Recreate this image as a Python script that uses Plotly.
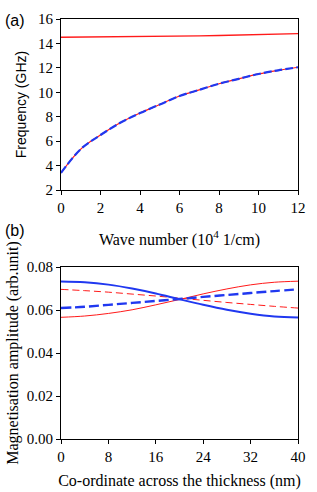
import plotly.graph_objects as go

# Panel (a): dispersion
k = [0, 1, 2, 3, 4, 5, 6, 7, 8, 9, 10, 11, 12]
f_upper = [14.5, 14.51, 14.52, 14.54, 14.56, 14.58, 14.6, 14.62, 14.65, 14.68, 14.71, 14.75, 14.8]
f_lower = [3.4, 5.35, 6.5, 7.5, 8.3, 9.0, 9.7, 10.2, 10.7, 11.1, 11.5, 11.8, 12.05]

# Panel (b): mode profiles
z = [0, 4, 8, 12, 16, 20, 24, 28, 32, 36, 40]
blue_solid = [0.0733, 0.0729, 0.0718, 0.0700, 0.0677, 0.0650, 0.0624, 0.0601, 0.0583, 0.0570, 0.0565]
red_solid = [0.0566, 0.0572, 0.0584, 0.0601, 0.0624, 0.0649, 0.0675, 0.0698, 0.0717, 0.0729, 0.0734]
red_dash = [0.0696, 0.0690, 0.0683, 0.0674, 0.0665, 0.0655, 0.0645, 0.0635, 0.0626, 0.0617, 0.0609]
blue_dash = [0.0609, 0.0615, 0.0624, 0.0633, 0.0642, 0.0651, 0.0661, 0.0670, 0.0679, 0.0688, 0.0696]

RED = "#ff1a1a"
BLUE = "#2038f0"
serif = "Liberation Serif, Times New Roman, serif"
sans = "Liberation Sans, Arial, sans-serif"

W, H = 317, 492
l, r, t, b = 61, 19, 19, 53
pw, ph = W - l - r, H - t - b
def px(xp): return (xp - l) / pw
def py(yp): return (H - b - yp) / ph

fig = go.Figure()
fig.add_trace(go.Scatter(x=k, y=f_upper, mode="lines", line=dict(color=RED, width=1.4), xaxis="x", yaxis="y"))
fig.add_trace(go.Scatter(x=k, y=f_lower, mode="lines", line=dict(color=RED, width=1.2, shape="spline"), xaxis="x", yaxis="y"))
fig.add_trace(go.Scatter(x=k, y=f_lower, mode="lines", line=dict(color=BLUE, width=2.2, dash="8px,3px", shape="spline"), xaxis="x", yaxis="y"))

fig.add_trace(go.Scatter(x=z, y=red_solid, mode="lines", line=dict(color=RED, width=1.0, shape="spline"), xaxis="x2", yaxis="y2"))
fig.add_trace(go.Scatter(x=z, y=red_dash, mode="lines", line=dict(color=RED, width=1.0, dash="7px,4px", shape="spline"), xaxis="x2", yaxis="y2"))
fig.add_trace(go.Scatter(x=z, y=blue_solid, mode="lines", line=dict(color=BLUE, width=2.0, shape="spline"), xaxis="x2", yaxis="y2"))
fig.add_trace(go.Scatter(x=z, y=blue_dash, mode="lines", line=dict(color=BLUE, width=2.4, dash="10px,4px", shape="spline"), xaxis="x2", yaxis="y2"))

axis_common = dict(showline=True, linecolor="black", linewidth=1, mirror=True, ticks="outside",
                   ticklen=4, tickcolor="black", showgrid=False, zeroline=False, automargin=False,
                   tickfont=dict(family=serif, size=15, color="black"))

fig.update_layout(
    width=W, height=H,
    margin=dict(l=l, r=r, t=t, b=b),
    paper_bgcolor="white", plot_bgcolor="white",
    showlegend=False,
    xaxis=dict(domain=[0, 1], anchor="y", range=[0, 12], tickvals=[0, 2, 4, 6, 8, 10, 12],
               title=dict(text="Wave number (10<sup>4</sup> 1/cm)", font=dict(family=serif, size=16, color="black"), standoff=18),
               **axis_common),
    yaxis=dict(domain=[py(190), py(19)], anchor="x", range=[2, 16], tickvals=[2, 4, 6, 8, 10, 12, 14, 16],
               title=dict(text="Frequency (GHz)", font=dict(family=sans, size=14, color="black"), standoff=8),
               **axis_common),
    xaxis2=dict(domain=[0, 1], anchor="y2", range=[0, 40], tickvals=[0, 8, 16, 24, 32, 40],
                title=dict(text="Co-ordinate across the thickness (nm)", font=dict(family=serif, size=16, color="black"), standoff=10),
                **axis_common),
    yaxis2=dict(domain=[py(439), py(267)], anchor="x2", range=[0, 0.08], tickvals=[0, 0.02, 0.04, 0.06, 0.08],
                tickformat=".2f",
                title=dict(text="Magnetisation amplitude (arb.unit)", font=dict(family=serif, size=16, color="black"), standoff=4),
                **axis_common),
    annotations=[
        dict(text="(a)", x=px(3), y=py(21), xref="paper", yref="paper", showarrow=False,
             xanchor="left", yanchor="middle", font=dict(family=sans, size=16, color="black")),
        dict(text="(b)", x=px(3), y=py(230), xref="paper", yref="paper", showarrow=False,
             xanchor="left", yanchor="middle", font=dict(family=sans, size=16, color="black")),
    ],
)

fig.write_html("out.html", config={"displayModeBar": False},
               post_script="document.body.style.margin='0';")
